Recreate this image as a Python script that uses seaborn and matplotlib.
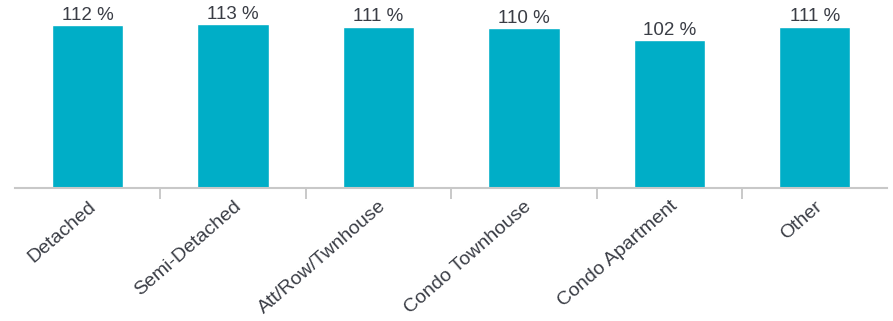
import matplotlib
matplotlib.use("Agg")
import matplotlib.pyplot as plt
import seaborn as sns
import pandas as pd

categories = ["Detached", "Semi-Detached", "Att/Row/Twnhouse", "Condo Townhouse",
              "Condo Apartment", "Other"]
values = [112, 113, 111, 110, 102, 111]

sns.set_style("white")
plt.rcParams['font.family'] = ['Liberation Sans', 'DejaVu Sans']

df = pd.DataFrame({"type": categories, "pct": values})

fig = plt.figure(figsize=(8.93, 3.21), dpi=100)
ax = fig.add_axes([0.0168, 0.414, 0.977, 0.58])
sns.barplot(data=df, x="type", y="pct", color="#00AEC7", saturation=1,
            width=0.49, ax=ax)

for i, v in enumerate(values):
    ax.text(i, v + 0.8, f"{v} %", ha="center", va="bottom", fontsize=13.5, color="#3a3d45")

ax.set_xlim(-0.5, len(categories) - 0.5)
ax.set_ylim(0, 128)
ax.set_xlabel("")
ax.set_ylabel("")
ax.set_yticks([])
for s in ["top", "right", "left"]:
    ax.spines[s].set_visible(False)
ax.spines["bottom"].set_color("#c8c8c8")
ax.spines["bottom"].set_linewidth(1.5)

ax.set_xticks(range(len(categories)))
ax.set_xticklabels(categories, rotation=41, ha="right", rotation_mode="anchor",
                   fontsize=14, color="#3a3d45")
ax.tick_params(axis="x", which="major", length=0, pad=7)
ax.set_xticks([i + 0.5 for i in range(len(categories) - 1)], minor=True)
ax.tick_params(axis="x", which="minor", length=8, width=1.2, color="#c0c0c0", bottom=True)

fig.savefig("out.png", dpi=100)
